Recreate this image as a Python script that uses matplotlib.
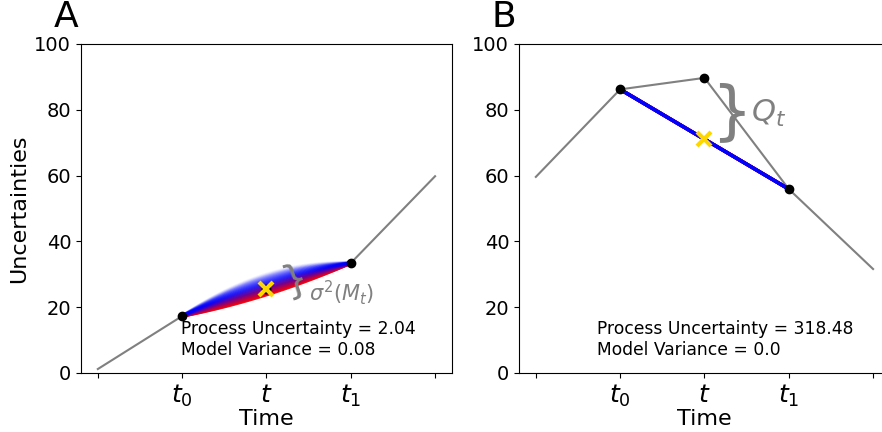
import numpy as np
import matplotlib.pyplot as plt
from matplotlib.colors import LinearSegmentedColormap

# *****************************************************************************

TIMES = [0, 1, 2, 3, 4]
TICK_LABELS = ['', '$t_0$', '$t$', '$t_1$', '']

A_VALUES = [1.2, 17.3, 25.5, 33.4, 59.8]
B_VALUES = [59.6, 86.2, 89.7, 55.9, 31.6]

A_PRED = 25.4
B_PRED = 71.05

# middle values (at t) of the model samples between t0 and t1
A_SAMPLE_MIDS = [23.8, 24.0, 24.3, 24.6, 24.9, 25.2, 25.5, 25.8, 26.1, 26.4,
                 26.7, 27.0, 27.3, 27.6, 27.9, 28.2, 28.5, 28.8, 29.1, 29.4,
                 29.7, 30.0]
B_SAMPLE_MIDS = [71.05, 71.05, 71.05, 71.05, 71.05, 71.05]

A_TEXT = 'Process Uncertainty = 2.04\nModel Variance = 0.08'
B_TEXT = 'Process Uncertainty = 318.48\nModel Variance = 0.0'

# *****************************************************************************

RB = LinearSegmentedColormap.from_list('rb', ['#ff0000', '#0000ff'])


def draw_panel(axs, values, pred, mids, txt, txt_x, letter):

    axs.plot(TIMES, values, color='gray', lw=1.5, zorder=1)

    x0, x1 = TIMES[1], TIMES[3]
    y0, y1 = values[1], values[3]
    xs = np.linspace(x0, x1, 60)
    nmid = len(mids)
    for k, ym in enumerate(mids):
        coef = np.polyfit([x0, TIMES[2], x1], [y0, ym, y1], 2)
        frac = k/max(nmid-1, 1)
        if nmid > 8:
            alpha = 0.9 - 0.85*frac
            col = RB(min(1.0, 1.6*frac))
        else:
            alpha = 1.0
            col = RB(frac)
        axs.plot(xs, np.polyval(coef, xs), color=col, lw=2.5,
                 alpha=alpha, zorder=2, solid_capstyle='round')

    axs.plot(TIMES[1:4], values[1:4], 'o', color='k', ms=6, zorder=3)
    axs.plot([TIMES[2]], [pred], 'x', color='gold', ms=10, mew=3, zorder=4)

    axs.text(txt_x, 10.3, txt, fontsize=12.3, va='center', ha='left')

    axs.set_xticks(TIMES)
    axs.set_xticklabels(TICK_LABELS, fontsize=18)
    axs.set_xlim(-0.2, 4.2)
    axs.set_ylim(0, 100)
    axs.set_yticks([0, 20, 40, 60, 80, 100])
    axs.tick_params(axis='y', labelsize=14)
    axs.set_xlabel('Time', fontsize=16, labelpad=0)
    axs.text(-0.04, 1.03, letter, transform=axs.transAxes, fontsize=26,
             ha='center', va='bottom')

    return None


def make_fig():

    fig01 = plt.figure(figsize=(8.82, 4.32), dpi=100)

    axs01 = fig01.add_axes([0.0918, 0.1366, 0.4206, 0.7616])
    axs02 = fig01.add_axes([0.5884, 0.1366, 0.4206, 0.7616])

    draw_panel(axs01, A_VALUES, A_PRED, A_SAMPLE_MIDS, A_TEXT, 0.99, 'A')
    draw_panel(axs02, B_VALUES, B_PRED, B_SAMPLE_MIDS, B_TEXT, 0.73, 'B')

    axs01.set_ylabel('Uncertainties', fontsize=16)

    # Annotations
    axs01.text(2.33, 28.6, '}', fontsize=28, color='gray', ha='center',
               va='center', rotation=18)
    axs01.text(2.5, 24.5, r'$\sigma^2(M_t)$', fontsize=15, color='gray',
               ha='left', va='center')
    axs02.text(2.08, 79.0, '}', fontsize=46, color='gray', ha='left',
               va='center')
    axs02.text(2.55, 79.0, r'$Q_t$', fontsize=22, color='gray', ha='left',
               va='center')

    plt.savefig('out.png', dpi=100)
    plt.close()

    return None

# *****************************************************************************


if (__name__ == "__main__"):

    make_fig()
